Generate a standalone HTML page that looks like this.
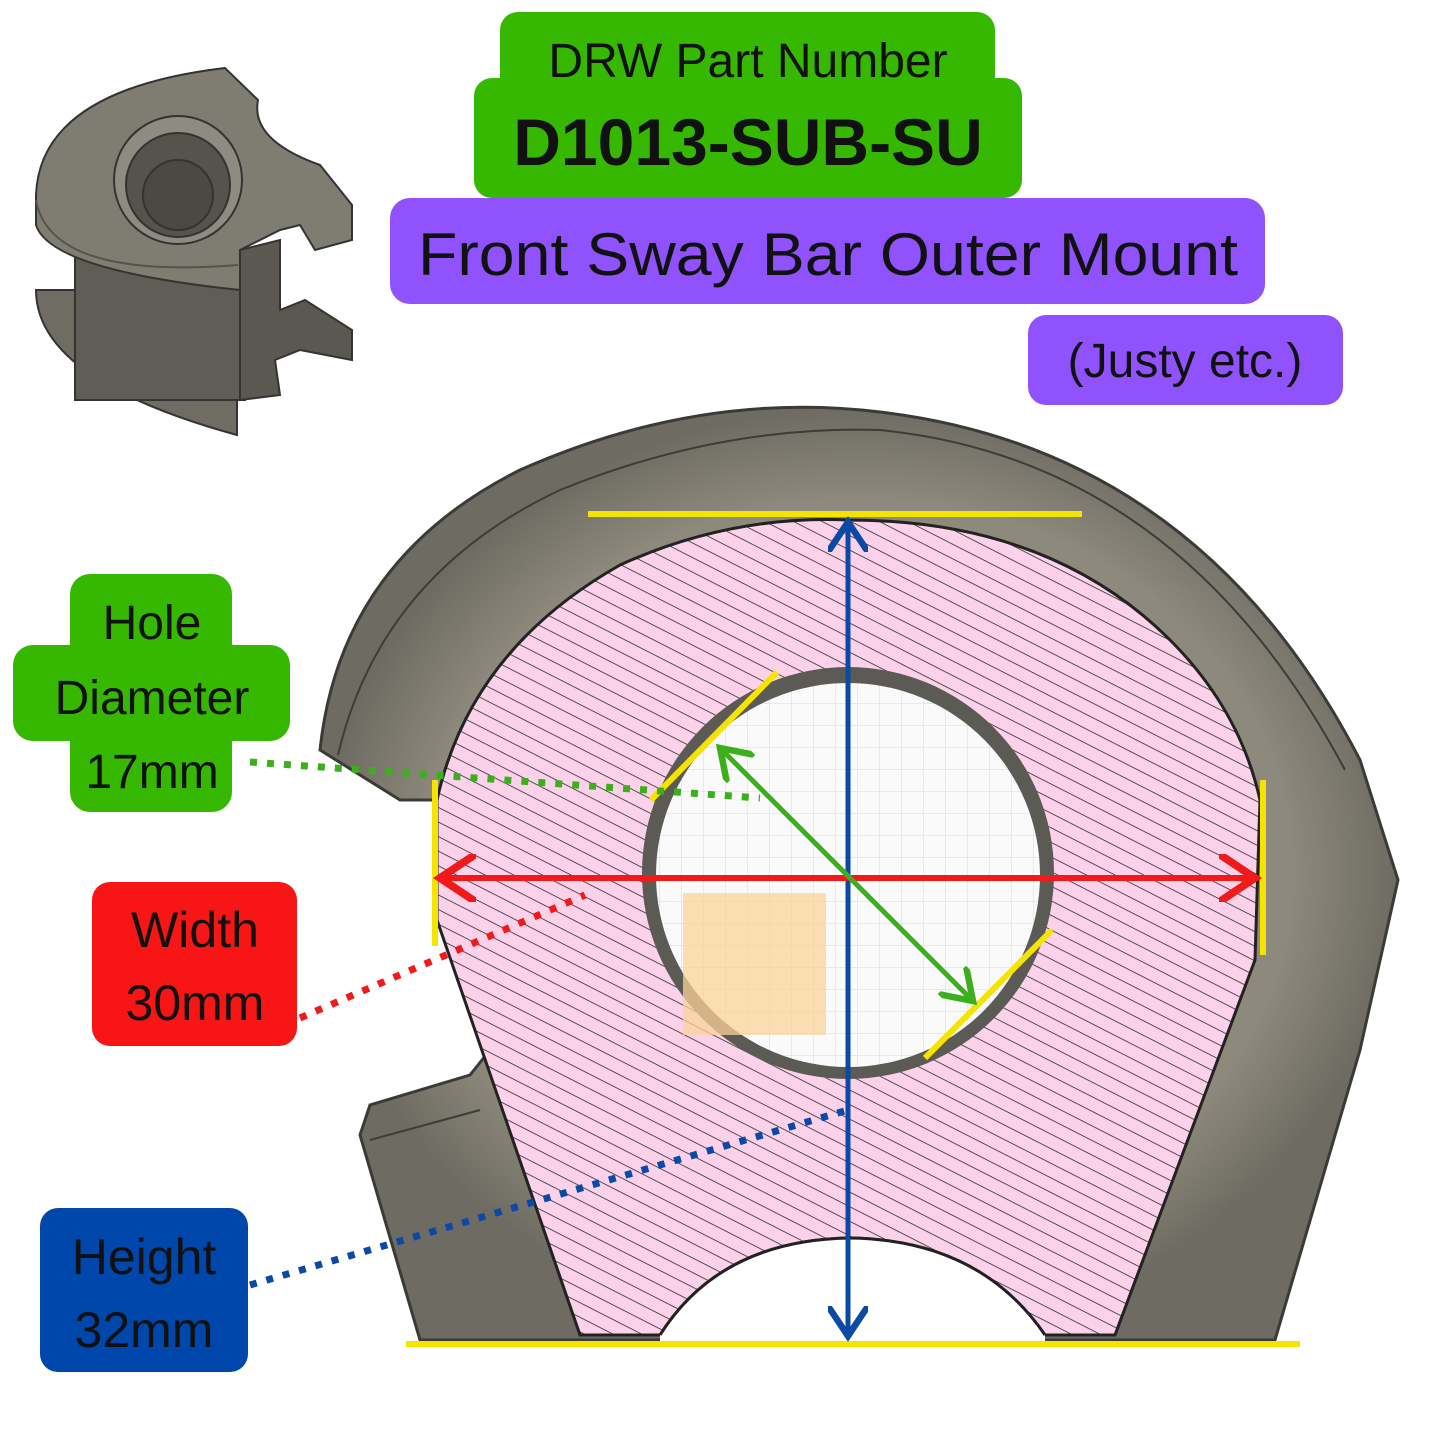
<!DOCTYPE html>
<html><head><meta charset="utf-8"><style>
html,body{margin:0;padding:0;background:#fff;}
svg{display:block;}
text{font-family:"Liberation Sans","DejaVu Sans",sans-serif;}
</style></head><body>
<svg width="1445" height="1445" viewBox="0 0 1445 1445" xmlns="http://www.w3.org/2000/svg">
<defs>
<pattern id="hatch" width="13" height="13" patternUnits="userSpaceOnUse" patternTransform="rotate(27)">
<rect width="13" height="13" fill="#fcd2ea"/>
<line x1="0" y1="0" x2="13" y2="0" stroke="#222" stroke-width="1.5"/>
</pattern>
<pattern id="grid" width="22" height="22" patternUnits="userSpaceOnUse">
<rect width="22" height="22" fill="#fafafa"/>
<path d="M22 0V22H0" fill="none" stroke="#d8d8d8" stroke-width="1"/>
</pattern>
<radialGradient id="gr" cx="0.5" cy="0.5" r="0.5">
<stop offset="0.8" stop-color="#8d897c"/><stop offset="1" stop-color="#6e6b62"/>
</radialGradient>
<marker id="ab" markerWidth="8" markerHeight="8" refX="6" refY="4" orient="auto-start-reverse" markerUnits="strokeWidth"><path d="M0,0 L6,4 L0,8" fill="none" stroke="#0a4aa6" stroke-width="1.3"/></marker>
<marker id="ar" markerWidth="8" markerHeight="8" refX="6" refY="4" orient="auto-start-reverse" markerUnits="strokeWidth"><path d="M0,0 L6,4 L0,8" fill="none" stroke="#f01a1a" stroke-width="1.3"/></marker>
<marker id="ag" markerWidth="8" markerHeight="8" refX="6" refY="4" orient="auto-start-reverse" markerUnits="strokeWidth"><path d="M0,0 L6,4 L0,8" fill="none" stroke="#3cb01c" stroke-width="1.3"/></marker>
</defs>

<g stroke="#333" stroke-width="2">
<path d="M36,290 Q36,380 237,435 L237,395 Q80,360 75,290 Z" fill="#6f6c63"/>
<rect x="75" y="250" width="170" height="150" fill="#5f5d56"/>
<path d="M240,250 L240,400 L280,395 L275,360 L300,350 L352,360 L352,330 L305,300 L280,310 L280,240 Z" fill="#5a5850"/>
<path d="M36,195 Q40,90 225,68 L258,100 Q250,140 320,165 L352,205 L352,240 L315,250 L300,225 L280,230 L240,250 L240,290 Q50,270 36,225 Z" fill="#7f7c72"/>
<path d="M36,200 Q50,280 238,265" fill="none" stroke="#55534c"/>
<circle cx="178" cy="180" r="64" fill="#8e8b80"/>
<circle cx="178" cy="185" r="52" fill="#55534c"/>
<circle cx="178" cy="195" r="35" fill="#4b4944"/>
</g>

<path d="M320,750 Q340,560 520,470 Q700,390 880,412 Q1200,450 1360,760 L1398,880 L1360,1050 L1275,1340 L420,1340 L360,1135 L370,1105 L470,1075 L490,1050 L445,800 L400,800 Z" fill="url(#gr)" stroke="#3a3a36" stroke-width="3"/>
<path d="M338,755 Q380,575 560,490 Q720,425 880,430 Q1180,460 1345,770" fill="none" stroke="#3d3c38" stroke-width="2"/>
<path d="M370,1140 L480,1110" stroke="#3d3c38" stroke-width="2" fill="none"/>

<path d="M437,800 Q470,650 620,565 Q730,515 848,520 Q1050,520 1170,640 Q1240,710 1260,800 L1255,960 L1115,1335 L1045,1335 Q980,1240 850,1238 Q720,1240 660,1335 L580,1335 L437,920 Z" fill="url(#hatch)" stroke="#222" stroke-width="3"/>
<path d="M660,1335 Q720,1240 850,1238 Q980,1240 1045,1335 L1045,1342 L660,1342 Z" fill="#fff"/>
<path d="M660,1335 Q720,1240 850,1238 Q980,1240 1045,1335" fill="none" stroke="#222" stroke-width="3"/>

<circle cx="848" cy="873" r="206" fill="#5b5a55"/>
<circle cx="848" cy="875" r="192" fill="url(#grid)"/>
<rect x="683" y="893" width="143" height="142" fill="#fbd39a" opacity="0.75"/>

<g stroke="#f5e400" stroke-width="6" fill="none">
<line x1="588" y1="514" x2="1082" y2="514"/>
<line x1="406" y1="1344" x2="1300" y2="1344"/>
<line x1="435" y1="780" x2="435" y2="946"/>
<line x1="1263" y1="780" x2="1263" y2="955"/>
<line x1="651" y1="800" x2="777" y2="672"/>
<line x1="925" y1="1058" x2="1052" y2="930"/>
</g>

<line x1="848" y1="522" x2="848" y2="1336" stroke="#0a4aa6" stroke-width="5" marker-start="url(#ab)" marker-end="url(#ab)"/>
<line x1="440" y1="878" x2="1255" y2="878" stroke="#f01a1a" stroke-width="6" marker-start="url(#ar)" marker-end="url(#ar)"/>
<line x1="720" y1="748" x2="973" y2="1001" stroke="#3cb01c" stroke-width="5" marker-start="url(#ag)" marker-end="url(#ag)"/>

<g stroke-width="7" stroke-dasharray="7 10" fill="none">
<line x1="250" y1="762" x2="760" y2="798" stroke="#3cb01c"/>
<line x1="300" y1="1018" x2="585" y2="895" stroke="#f01a1a"/>
<line x1="250" y1="1285" x2="848" y2="1110" stroke="#0a4aa6"/>
</g>

<rect x="500" y="12" width="495" height="90" rx="18" fill="#36b800"/>
<rect x="474" y="78" width="548" height="120" rx="18" fill="#36b800"/>
<text x="748" y="77" font-size="48" text-anchor="middle" fill="#111">DRW Part Number</text>
<text x="748" y="165" font-size="66" font-weight="bold" text-anchor="middle" fill="#111">D1013-SUB-SU</text>
<rect x="390" y="198" width="875" height="106" rx="20" fill="#8f52fd"/>
<text x="828" y="275" font-size="60" text-anchor="middle" fill="#111" textLength="820" lengthAdjust="spacingAndGlyphs">Front Sway Bar Outer Mount</text>
<rect x="1028" y="315" width="315" height="90" rx="18" fill="#8f52fd"/>
<text x="1185" y="377" font-size="48" text-anchor="middle" fill="#111">(Justy etc.)</text>

<rect x="70" y="574" width="162" height="238" rx="20" fill="#36b800"/>
<rect x="13" y="645" width="277" height="96" rx="20" fill="#36b800"/>
<text x="152" y="639" font-size="48" text-anchor="middle" fill="#111">Hole</text>
<text x="152" y="714" font-size="48" text-anchor="middle" fill="#111">Diameter</text>
<text x="152" y="788" font-size="48" text-anchor="middle" fill="#111">17mm</text>

<rect x="92" y="882" width="205" height="164" rx="18" fill="#f71515"/>
<text x="195" y="947" font-size="50" text-anchor="middle" fill="#111">Width</text>
<text x="195" y="1020" font-size="50" text-anchor="middle" fill="#111">30mm</text>

<rect x="40" y="1208" width="208" height="164" rx="18" fill="#0047ab"/>
<text x="144" y="1274" font-size="50" text-anchor="middle" fill="#111">Height</text>
<text x="144" y="1347" font-size="50" text-anchor="middle" fill="#111">32mm</text>
</svg>
</body></html>
